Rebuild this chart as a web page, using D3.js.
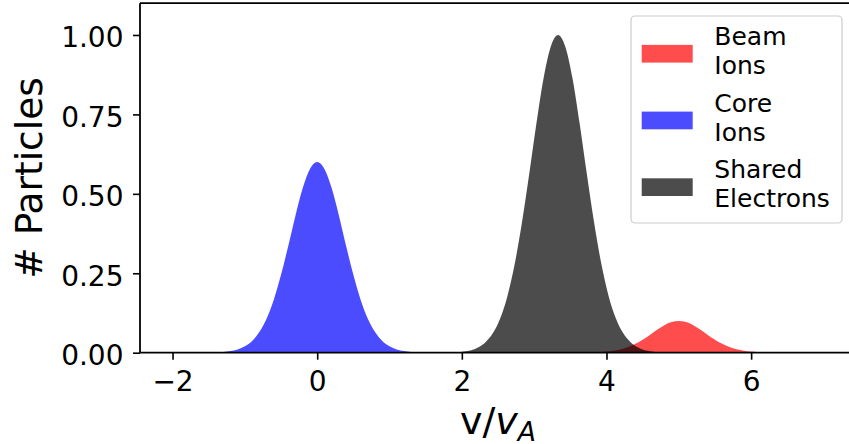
<!DOCTYPE html>
<html>
<head>
<meta charset="utf-8">
<script src="https://cdn.jsdelivr.net/npm/d3@7"></script>
<style>
  html, body { margin: 0; padding: 0; background: #fff; }
  svg { display: block; font-family: "DejaVu Sans", sans-serif; }
</style>
</head>
<body>
<svg id="chart" width="849" height="444"></svg>
<script>
// ---- Velocity distributions (v / v_A) ----
// Beam ions, centred on v = 5
const beamV = [3.6, 3.7, 3.8, 3.9, 4.0, 4.1, 4.2, 4.3, 4.4, 4.5, 4.6, 4.7, 4.8, 4.9, 5.0,
               5.1, 5.2, 5.3, 5.4, 5.5, 5.6, 5.7, 5.8, 5.9, 6.0, 6.1, 6.2, 6.3, 6.4];
const beamN = [0, 0.0003, 0.0008, 0.0017, 0.0034, 0.0062, 0.0108, 0.0178, 0.0278, 0.0408, 0.056, 0.072, 0.0864, 0.0964, 0.100,
               0.0964, 0.0864, 0.072, 0.056, 0.0408, 0.0278, 0.0178, 0.0108, 0.0062, 0.0034, 0.0017, 0.0008, 0.0003, 0];

// Core ions, centred on v = 0
const coreV = [-1.6, -1.5, -1.4, -1.3, -1.2, -1.1, -1.0, -0.9, -0.8, -0.7, -0.6, -0.5, -0.4, -0.3, -0.2, -0.1, 0,
               0.1, 0.2, 0.3, 0.4, 0.5, 0.6, 0.7, 0.8, 0.9, 1.0, 1.1, 1.2, 1.3, 1.4, 1.5, 1.6];
const coreN = [0, 0.0003, 0.0008, 0.002, 0.005, 0.010, 0.020, 0.037, 0.065, 0.107, 0.167, 0.245, 0.336, 0.432, 0.518, 0.578, 0.600,
               0.578, 0.518, 0.432, 0.336, 0.245, 0.167, 0.107, 0.065, 0.037, 0.020, 0.010, 0.005, 0.002, 0.0008, 0.0003, 0];

// Shared electrons, centred on v = 3.33
const elecV = [1.73, 1.83, 1.93, 2.03, 2.13, 2.23, 2.33, 2.43, 2.53, 2.63, 2.73, 2.83, 2.93, 3.03, 3.13, 3.23, 3.33,
               3.43, 3.53, 3.63, 3.73, 3.83, 3.93, 4.03, 4.13, 4.23, 4.33, 4.43, 4.53, 4.63, 4.73, 4.83, 4.93];
const elecN = [0, 0.0005, 0.0014, 0.0035, 0.008, 0.017, 0.034, 0.062, 0.108, 0.178, 0.278, 0.408, 0.56, 0.72, 0.864, 0.964, 1.0,
               0.964, 0.864, 0.72, 0.56, 0.408, 0.278, 0.178, 0.108, 0.062, 0.034, 0.017, 0.008, 0.0035, 0.0014, 0.0005, 0];

const seriesNames = [["Beam", "Ions"], ["Core", "Ions"], ["Shared", "Electrons"]];
const seriesColors = ["red", "blue", "black"];

const xTicks = [-2, 0, 2, 4, 6];
const yTicks = [0, 0.25, 0.5, 0.75, 1.0];

// ---- Layout ----
const svg = d3.select("#chart");
const plotLeft = 140, plotRight = 856, plotTop = 3.2, plotBottom = 352.7;

const x = d3.scaleLinear().domain([-2.45, 7.45]).range([plotLeft, plotRight]);
const y = d3.scaleLinear().domain([0, 1.1]).range([plotBottom, plotTop]);

const series = [
  { v: beamV, n: beamN },
  { v: coreV, n: coreN },
  { v: elecV, n: elecN }
];

const area = d3.area()
  .x(d => x(d[0]))
  .y0(y(0))
  .y1(d => y(d[1]))
  .curve(d3.curveMonotoneX);

svg.append("g").selectAll("path")
  .data(series)
  .join("path")
  .attr("d", s => area(d3.zip(s.v, s.n)))
  .attr("fill", (s, i) => seriesColors[i])
  .attr("fill-opacity", 0.7);

// ---- Axes ----
const xAxis = svg.append("g")
  .attr("transform", `translate(0,${plotBottom})`)
  .call(d3.axisBottom(x).tickValues(xTicks).tickSize(7).tickFormat(d3.format("d")));
xAxis.select(".domain").remove();
xAxis.selectAll(".tick line").attr("stroke", "#000").attr("stroke-width", 1.6);
xAxis.selectAll(".tick text")
  .attr("y", 38.3).attr("dy", null)
  .attr("fill", "#000")
  .style("font-size", "28px")
  .style("font-family", "'DejaVu Sans', sans-serif");

const yAxis = svg.append("g")
  .attr("transform", `translate(${plotLeft},0)`)
  .call(d3.axisLeft(y).tickValues(yTicks).tickSize(7).tickFormat(d3.format(".2f")));
yAxis.select(".domain").remove();
yAxis.selectAll(".tick line").attr("stroke", "#000").attr("stroke-width", 1.6);
yAxis.selectAll(".tick text")
  .attr("x", -16.5).attr("dy", "0.42em")
  .attr("fill", "#000")
  .style("font-size", "28px")
  .style("font-family", "'DejaVu Sans', sans-serif");

// Spines (the right one falls outside the canvas)
const spines = svg.append("g").attr("stroke", "#000").attr("stroke-width", 1.8).attr("fill", "none");
spines.append("line").attr("x1", plotLeft).attr("x2", plotLeft).attr("y1", plotTop).attr("y2", plotBottom);
spines.append("line").attr("x1", plotLeft).attr("x2", plotRight).attr("y1", plotBottom).attr("y2", plotBottom);
spines.append("line").attr("x1", plotLeft).attr("x2", plotRight).attr("y1", plotTop).attr("y2", plotTop);
spines.append("line").attr("x1", plotRight).attr("x2", plotRight).attr("y1", plotTop).attr("y2", plotBottom);

// ---- Axis labels ----
svg.append("text")
  .attr("transform", `translate(42,${(plotTop + plotBottom) / 2}) rotate(-90)`)
  .attr("text-anchor", "middle")
  .style("font-size", "37.5px")
  .text("# Particles");

const xl = svg.append("text")
  .attr("x", (plotLeft + plotRight) / 2)
  .attr("y", 434)
  .attr("text-anchor", "middle")
  .style("font-size", "38px");
xl.append("tspan").text("v/");
xl.append("tspan").style("font-style", "italic").text("v");
xl.append("tspan").style("font-style", "italic").style("font-size", "26.6px").attr("dy", 6.5).text("A");

// ---- Legend ----
const legend = svg.append("g");
legend.append("rect")
  .attr("x", 631).attr("y", 16).attr("width", 211).attr("height", 207)
  .attr("rx", 4).attr("ry", 4)
  .attr("fill", "#fff").attr("fill-opacity", 0.8)
  .attr("stroke", "#cccccc").attr("stroke-width", 1.2);

const entryCenters = [53.8, 120.5, 187.2];
const entries = legend.selectAll("g.entry")
  .data(seriesNames)
  .join("g")
  .attr("class", "entry")
  .attr("transform", (d, i) => `translate(0,${entryCenters[i]})`);

entries.append("rect")
  .attr("x", 641.7).attr("y", -8.9).attr("width", 51).attr("height", 17.7)
  .attr("fill", (d, i) => seriesColors[i])
  .attr("fill-opacity", 0.7);

entries.append("text")
  .attr("x", 714.3)
  .style("font-size", "25px")
  .selectAll("tspan")
  .data(d => d)
  .join("tspan")
  .attr("x", 714.3)
  .attr("y", (d, j) => j === 0 ? -8.8 : 20.2)
  .text(d => d);
</script>
</body>
</html>
